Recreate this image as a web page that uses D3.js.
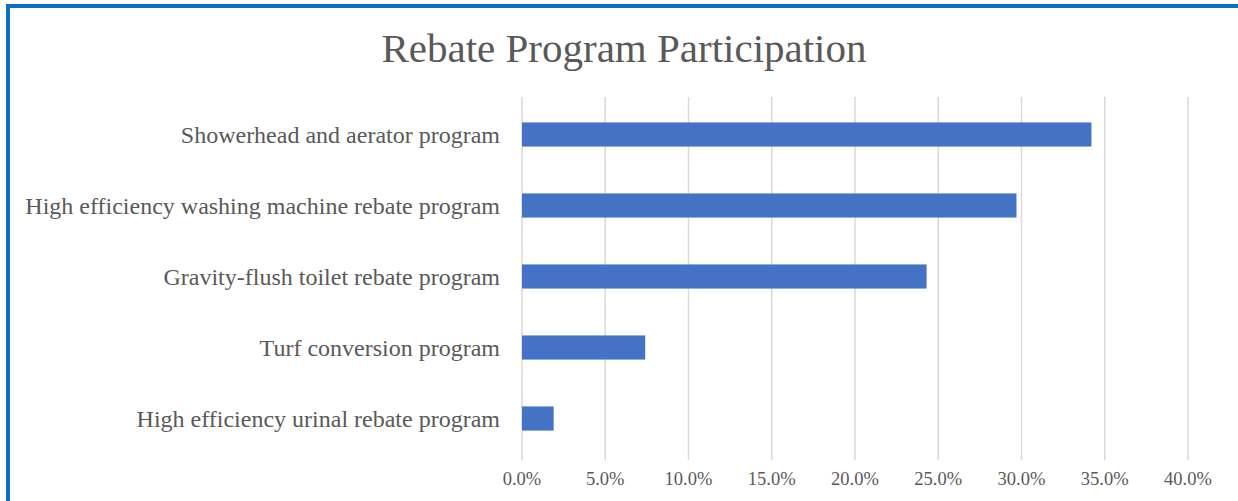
<!DOCTYPE html>
<html><head><meta charset="utf-8">
<script src="https://cdn.jsdelivr.net/npm/d3@7"></script>
<style>body{margin:0;background:#fff}svg{display:block}</style>
</head><body>
<script>
const categories = ["Showerhead and aerator program","High efficiency washing machine rebate program","Gravity-flush toilet rebate program","Turf conversion program","High efficiency urinal rebate program"];
const values = [0.342, 0.297, 0.243, 0.074, 0.019];
const ticks = [0,0.05,0.10,0.15,0.20,0.25,0.30,0.35,0.40];
const title = "Rebate Program Participation";

const W = 1238, H = 501;
const svg = d3.select("body").append("svg").attr("width", W).attr("height", H);
svg.append("rect").attr("width", W).attr("height", H).attr("fill", "#fff");

// frame
svg.append("line").attr("x1", 6).attr("x2", W).attr("y1", 6).attr("y2", 6).attr("stroke", "#0A70C4").attr("stroke-width", 4);
svg.append("line").attr("x1", 8).attr("x2", 8).attr("y1", 4).attr("y2", H).attr("stroke", "#0A70C4").attr("stroke-width", 4);

const x = d3.scaleLinear().domain([0, 0.4]).range([522, 1188]);
const y = d3.scaleBand().domain(categories).range([99, 454]).paddingInner(0.66).paddingOuter(0.33);

svg.append("text").attr("x", 624).attr("y", 62).attr("text-anchor", "middle")
  .attr("font-family", "Liberation Serif, serif").attr("font-size", 41).attr("fill", "#595959").text(title);

// gridlines
svg.append("g").selectAll("line").data(ticks).join("line")
  .attr("x1", d => x(d)).attr("x2", d => x(d)).attr("y1", 97).attr("y2", 460)
  .attr("stroke", "#d9d9d9").attr("stroke-width", 1.5);

// bars
svg.append("g").selectAll("rect").data(values).join("rect")
  .attr("x", x(0)).attr("y", (d, i) => y(categories[i]))
  .attr("width", d => x(d) - x(0)).attr("height", y.bandwidth())
  .attr("fill", "#4472C4");

// category labels
svg.append("g").selectAll("text").data(categories).join("text")
  .attr("x", 500).attr("y", d => y(d) + y.bandwidth() / 2).attr("dy", "0.35em")
  .attr("text-anchor", "end").attr("font-family", "Liberation Serif, serif")
  .attr("font-size", 24).attr("fill", "#595959").text(d => d);

// tick labels
svg.append("g").selectAll("text").data(ticks).join("text")
  .attr("x", d => x(d)).attr("y", 485).attr("text-anchor", "middle")
  .attr("font-family", "Liberation Serif, serif").attr("font-size", 18.5).attr("fill", "#595959")
  .text(d => d3.format(".1%")(d));
</script>
</body></html>
